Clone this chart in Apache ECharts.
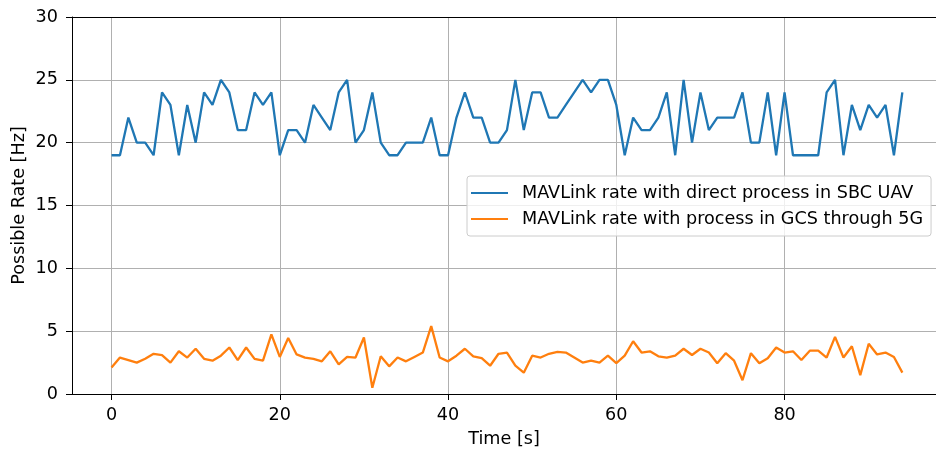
<!DOCTYPE html>
<html>
<head>
<meta charset="utf-8">
<script src="https://cdn.jsdelivr.net/npm/echarts@6/dist/echarts.min.js"></script>
<style>
  html, body { margin: 0; padding: 0; background: #fff; }
  #chart { width: 936px; height: 450px; }
</style>
</head>
<body>
<div id="chart"></div>
<script>
// Time stamps in seconds (one sample per second)
const timeSeconds = Array.from({ length: 95 }, (_, i) => i);

// MAVLink rate with direct processing on the SBC on board the UAV [Hz]
const directRate = [
  19, 19, 22, 20, 20, 19, 24, 23, 19, 23,
  20, 24, 23, 25, 24, 21, 21, 24, 23, 24,
  19, 21, 21, 20, 23, 22, 21, 24, 25, 20,
  21, 24, 20, 19, 19, 20, 20, 20, 22, 19,
  19, 22, 24, 22, 22, 20, 20, 21, 25, 21,
  24, 24, 22, 22, 23, 24, 25, 24, 25, 25,
  23, 19, 22, 21, 21, 22, 24, 19, 25, 20,
  24, 21, 22, 22, 22, 24, 20, 20, 24, 19,
  24, 19, 19, 19, 19, 24, 25, 19, 23, 21,
  23, 22, 23, 19, 24
];

// MAVLink rate with processing on the GCS over the 5G link [Hz]
const gcsRate = [
  2.1, 2.9, 2.7, 2.5, 2.8, 3.2, 3.1, 2.5, 3.4, 2.9,
  3.6, 2.8, 2.65, 3.05, 3.7, 2.7, 3.7, 2.8, 2.65, 4.75,
  2.95, 4.45, 3.15, 2.9, 2.8, 2.6, 3.4, 2.35, 2.95, 2.9,
  4.5, 0.5, 3.0, 2.2, 2.9, 2.6, 2.95, 3.3, 5.4, 2.9,
  2.6, 3.05, 3.6, 3.0, 2.85, 2.25, 3.2, 3.3, 2.25, 1.7,
  3.05, 2.9, 3.2, 3.35, 3.3, 2.9, 2.5, 2.65, 2.5, 3.05,
  2.45, 3.05, 4.2, 3.3, 3.4, 3.0, 2.9, 3.05, 3.6, 3.1,
  3.6, 3.3, 2.45, 3.25, 2.65, 1.1, 3.25, 2.45, 2.85, 3.7,
  3.3, 3.4, 2.7, 3.45, 3.45, 2.9, 4.55, 2.9, 3.8, 1.5,
  4.0, 3.15, 3.3, 2.95, 1.7
];

const seriesNames = [
  'MAVLink rate with direct process in SBC UAV',
  'MAVLink rate with process in GCS through 5G'
];

const xTicks = [0, 20, 40, 60, 80];
const xRange = [-4.7, 98.0];
const yRange = [0, 30];
const yStep = 5;

const font = 'DejaVu Sans';
const fontSize = 17.6;
const gridColor = '#b0b0b0';
const colors = ['#1f77b4', '#ff7f0e'];

const chart = echarts.init(document.getElementById('chart'), null, { renderer: 'canvas' });

const pairs = (ys) => timeSeconds.map((t, i) => [t, ys[i]]);

chart.setOption({
  animation: false,
  backgroundColor: '#ffffff',
  grid: { left: 72, top: 17, width: 864, height: 377, outerBoundsMode: 'none', containLabel: false },
  legend: {
    orient: 'vertical',
    left: 467, top: 176,
    padding: [8, 8, 8, 4],
    itemWidth: 37, itemHeight: 2, itemGap: 8,
    backgroundColor: 'rgba(255,255,255,0.8)',
    borderColor: '#cccccc', borderWidth: 1, borderRadius: 3,
    textStyle: { fontFamily: font, fontSize: fontSize, color: '#000', padding: [0, 0, 0, 9] },
    data: seriesNames.map((name) => ({ name, icon: 'rect' }))
  },
  xAxis: [
    {
      type: 'value',
      min: xRange[0], max: xRange[1],
      name: 'Time [s]', nameLocation: 'middle', nameGap: 36, nameMoveOverlap: false,
      nameTextStyle: { fontFamily: font, fontSize: fontSize, color: '#000' },
      axisLine: { onZero: false, lineStyle: { color: '#000', width: 1 } },
      axisTick: { show: true, length: 6, customValues: xTicks, lineStyle: { color: '#000' } },
      axisLabel: { customValues: xTicks, margin: 12, fontFamily: font, fontSize: fontSize, color: '#000' },
      splitLine: { show: true, lineStyle: { color: gridColor, width: 1 } }
    },
    {
      // top frame line of the plot area
      type: 'value', position: 'top',
      min: xRange[0], max: xRange[1],
      axisLine: { show: true, onZero: false, lineStyle: { color: '#000', width: 1 } },
      axisTick: { show: false }, axisLabel: { show: false }, splitLine: { show: false }
    }
  ],
  yAxis: {
    type: 'value',
    min: yRange[0], max: yRange[1], interval: yStep,
    name: 'Possible Rate [Hz]', nameLocation: 'middle', nameGap: 44, nameRotate: 90, nameMoveOverlap: false,
    nameTextStyle: { fontFamily: font, fontSize: fontSize, color: '#000' },
    axisLine: { show: true, onZero: false, lineStyle: { color: '#000', width: 1 } },
    axisTick: { show: true, length: 6, lineStyle: { color: '#000' } },
    axisLabel: { margin: 14, fontFamily: font, fontSize: fontSize, color: '#000' },
    splitLine: { show: true, lineStyle: { color: gridColor, width: 1 } }
  },
  series: [
    {
      name: seriesNames[0], type: 'line', data: pairs(directRate),
      symbol: 'none', color: colors[0],
      lineStyle: { color: colors[0], width: 2.3 }, z: 3
    },
    {
      name: seriesNames[1], type: 'line', data: pairs(gcsRate),
      symbol: 'none', color: colors[1],
      lineStyle: { color: colors[1], width: 2.3 }, z: 4
    }
  ]
});
</script>
</body>
</html>
